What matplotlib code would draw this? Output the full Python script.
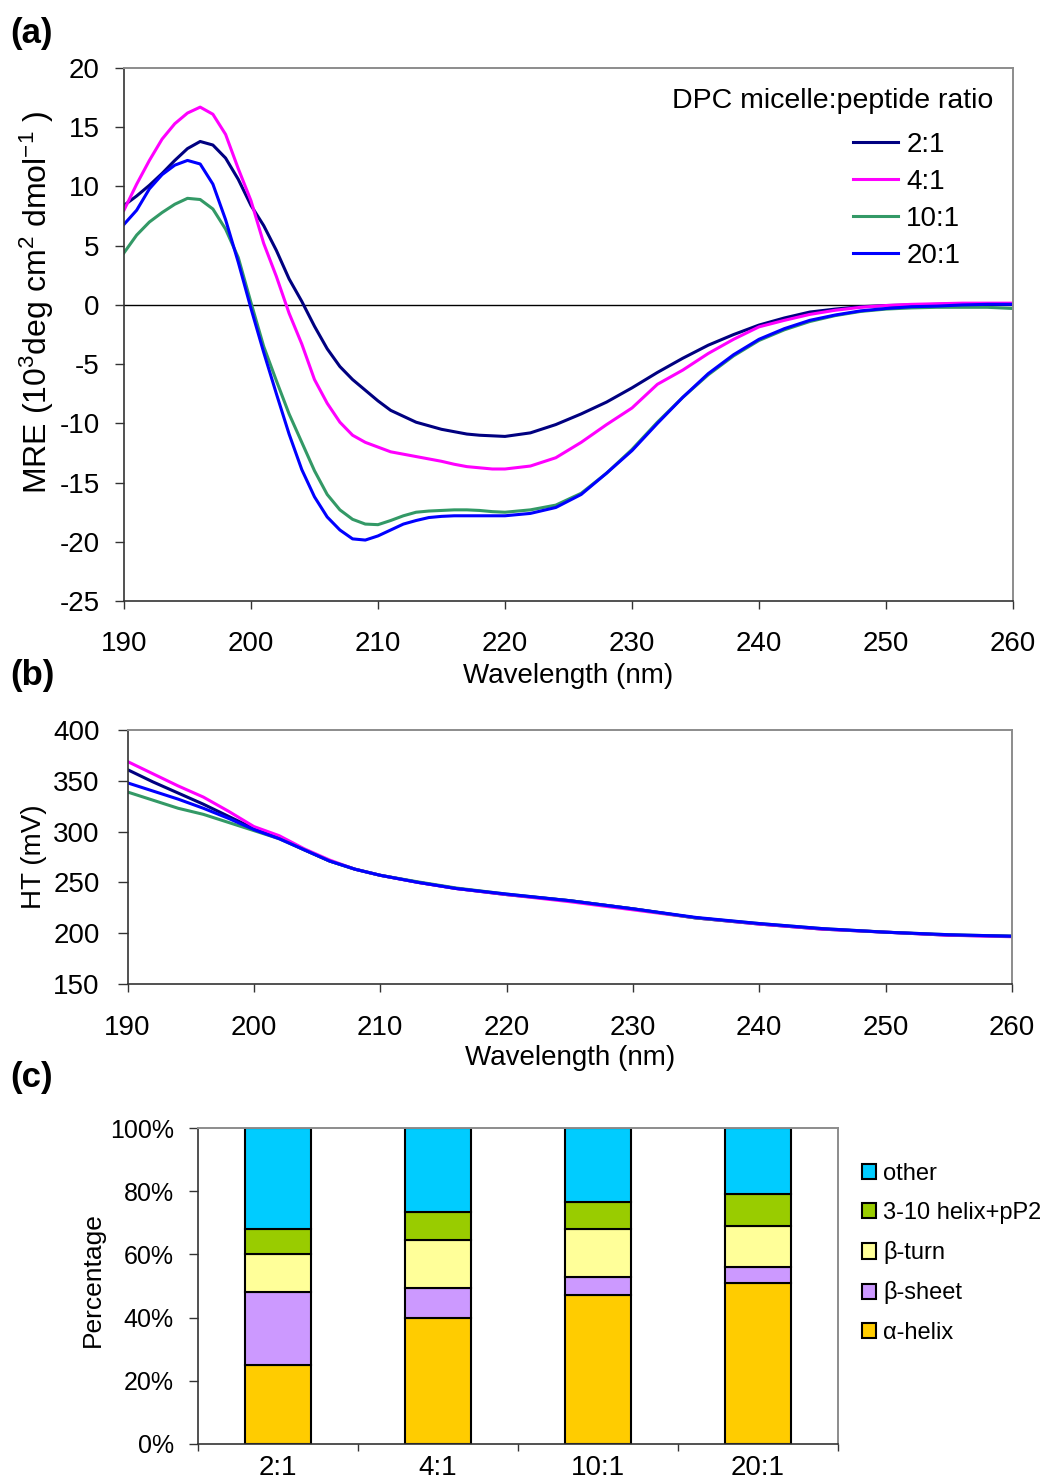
import matplotlib
matplotlib.use('Agg')
import matplotlib.pyplot as plt
from matplotlib.ticker import MultipleLocator, FixedLocator, NullFormatter

plt.rcParams['font.family'] = ['Liberation Sans', 'DejaVu Sans']
plt.rcParams['mathtext.default'] = 'regular'
plt.rcParams['axes.unicode_minus'] = False

# ---- CD spectra (MRE, 10^3 deg cm2 dmol-1) ----
wl = [190, 191, 192, 193, 194, 195, 196, 197, 198, 199, 200, 201, 202, 203, 204, 205,
      206, 207, 208, 209, 210, 211, 212, 213, 214, 215, 216, 217, 218, 219, 220, 222,
      224, 226, 228, 230, 232, 234, 236, 238, 240, 242, 244, 246, 248, 250, 252, 254,
      256, 258, 260]
mre_2 = [8.4, 9.2, 10.1, 11.1, 12.2, 13.2, 13.8, 13.5, 12.4, 10.6, 8.4, 6.7, 4.6, 2.2, 0.3, -1.8,
         -3.7, -5.2, -6.3, -7.2, -8.1, -8.9, -9.4, -9.9, -10.2, -10.5, -10.7, -10.9, -11.0, -11.05, -11.1, -10.8,
         -10.1, -9.2, -8.2, -7.0, -5.7, -4.5, -3.4, -2.5, -1.7, -1.1, -0.6, -0.35, -0.15, -0.05, 0.0, 0.05,
         0.1, 0.1, 0.1]
mre_4 = [8.0, 10.2, 12.2, 14.0, 15.3, 16.2, 16.7, 16.1, 14.4, 11.5, 8.8, 5.2, 2.4, -0.7, -3.3, -6.3,
         -8.3, -9.9, -11.0, -11.6, -12.0, -12.4, -12.6, -12.8, -13.0, -13.2, -13.45, -13.65, -13.75, -13.85, -13.85, -13.6,
         -12.9, -11.6, -10.1, -8.7, -6.7, -5.5, -4.1, -2.9, -1.85, -1.3, -0.8, -0.45, -0.2, -0.05, 0.05, 0.1,
         0.15, 0.15, 0.15]
mre_10 = [4.4, 5.9, 7.0, 7.8, 8.5, 9.0, 8.9, 8.1, 6.4, 4.0, 0.2, -3.5, -6.4, -9.2, -11.6, -14.0,
          -16.0, -17.3, -18.1, -18.5, -18.55, -18.2, -17.8, -17.5, -17.4, -17.35, -17.3, -17.3, -17.35, -17.45, -17.5, -17.3,
          -16.9, -15.9, -14.2, -12.2, -9.9, -7.8, -5.9, -4.3, -3.0, -2.1, -1.4, -0.9, -0.55, -0.35, -0.25, -0.2,
          -0.2, -0.2, -0.3]
mre_20 = [6.8, 8.0, 9.8, 11.0, 11.8, 12.2, 11.9, 10.2, 7.2, 3.6, -0.3, -4.0, -7.5, -10.9, -13.9, -16.2,
          -17.9, -19.0, -19.75, -19.85, -19.5, -19.0, -18.5, -18.2, -17.95, -17.85, -17.8, -17.8, -17.8, -17.8, -17.8, -17.6,
          -17.1, -16.0, -14.2, -12.3, -10.0, -7.8, -5.8, -4.2, -2.9, -2.0, -1.3, -0.85, -0.5, -0.3, -0.15, -0.1,
          0.0, 0.05, 0.05]

# ---- HT voltage (mV) ----
wl_ht = [190, 192, 194, 196, 198, 200, 202, 204, 206, 208, 210, 213, 216, 220, 225, 230, 235, 240, 245, 250, 255, 260]
ht_2 = [361, 349, 338, 327, 315, 303, 294, 282, 271, 263, 257, 250, 244, 238, 232, 224, 215, 209, 204, 201, 198, 197]
ht_4 = [369, 357, 345, 334, 320, 305, 296, 283, 272, 263, 257, 250, 244, 238, 231, 223, 215, 209, 204, 201, 198, 196.5]
ht_10 = [339, 331, 323, 317, 309, 301, 293, 282, 271, 263, 257, 250.5, 244.5, 238.5, 232, 224, 215, 209.5, 204.5, 201, 198.5, 197]
ht_20 = [348, 340, 332, 323, 313, 302, 293, 282, 271, 263, 257, 250, 244, 238.5, 232, 224, 215.5, 209.5, 204.5, 201, 198.5, 197]

ratios = ['2:1', '4:1', '10:1', '20:1']
line_colors = ['#000080', '#FF00FF', '#339966', '#0000FF']

# ---- secondary structure fractions (%) ----
helix = [25, 40, 47, 51]
sheet = [23, 9.5, 6, 5]
turn = [12, 15, 15, 13]
helix310 = [8, 9, 8.5, 10]
other = [32, 26.5, 23.5, 21]
struct_names = ['α-helix', 'β-sheet', 'β-turn', '3-10 helix+pP2', 'other']
struct_colors = ['#FFCC00', '#CC99FF', '#FFFF99', '#99CC00', '#00CCFF']

fig = plt.figure(figsize=(10.41, 14.79), dpi=100)


def frame(ax):
    for s in ('left', 'bottom'):
        ax.spines[s].set_color('#333333')
        ax.spines[s].set_linewidth(1.2)
    for s in ('top', 'right'):
        ax.spines[s].set_color('#8c8c8c')
        ax.spines[s].set_linewidth(1.4)


# (a) CD spectra
ax1 = fig.add_axes([0.1191, 0.5936, 0.8540, 0.3604])
for y, lab, c in zip([mre_2, mre_4, mre_10, mre_20], ratios, line_colors):
    ax1.plot(wl, y, color=c, lw=2.2, label=lab)
ax1.axhline(0, color='black', lw=1.0, zorder=1)
ax1.set_xlim(190, 260)
ax1.set_ylim(-25, 20)
ax1.xaxis.set_major_locator(MultipleLocator(10))
ax1.yaxis.set_major_locator(MultipleLocator(5))
ax1.tick_params(axis='y', direction='out', length=6.5, width=1, pad=11, labelsize=20, color='#333333')
ax1.tick_params(axis='x', direction='out', length=5.5, width=1, pad=16, labelsize=20, color='#333333')
ax1.set_xlabel('Wavelength (nm)', fontsize=20)
ax1.xaxis.set_label_coords(0.5, -0.116)
ax1.set_ylabel('MRE (10$^3$deg cm$^2$ dmol$^{-1}$ )', fontsize=23)
ax1.yaxis.set_label_coords(-0.076, 0.56)
frame(ax1)
ax1.text(0.9775, 0.938, 'DPC micelle:peptide ratio', transform=ax1.transAxes,
         ha='right', va='center', fontsize=20.5)
ax1.legend(loc='upper left', bbox_to_anchor=(0.82, 0.8805), frameon=False, fontsize=20,
           handlelength=1.62, handletextpad=0.3, labelspacing=0.4, borderpad=0, borderaxespad=0)

# (b) HT voltage
ax2 = fig.add_axes([0.1225, 0.3347, 0.8496, 0.1717])
for y, c in zip([ht_2, ht_4, ht_10, ht_20], line_colors):
    ax2.plot(wl_ht, y, color=c, lw=2.2)
ax2.set_xlim(190, 260)
ax2.set_ylim(150, 400)
ax2.xaxis.set_major_locator(MultipleLocator(10))
ax2.yaxis.set_major_locator(MultipleLocator(50))
ax2.tick_params(axis='y', direction='out', length=7, width=1, pad=13, labelsize=20, color='#333333')
ax2.tick_params(axis='x', direction='out', length=5.5, width=1, pad=17, labelsize=20, color='#333333')
ax2.set_xlabel('Wavelength (nm)', fontsize=20)
ax2.xaxis.set_label_coords(0.5, -0.24)
ax2.set_ylabel('HT (mV)', fontsize=20)
ax2.yaxis.set_label_coords(-0.091, 0.5)
frame(ax2)

# (c) secondary structure composition
ax3 = fig.add_axes([0.1902, 0.0237, 0.6148, 0.2136])
x = range(len(ratios))
bottom = [0, 0, 0, 0]
for vals, name, c in zip([helix, sheet, turn, helix310, other], struct_names, struct_colors):
    ax3.bar(x, vals, width=0.41, bottom=bottom, color=c, edgecolor='black', linewidth=1.5, label=name)
    bottom = [b + v for b, v in zip(bottom, vals)]
ax3.set_xlim(-0.5, 3.5)
ax3.set_ylim(0, 100)
ax3.set_xticks(list(x))
ax3.set_xticklabels(ratios)
ax3.xaxis.set_minor_locator(FixedLocator([-0.5, 0.5, 1.5, 2.5, 3.5]))
ax3.xaxis.set_minor_formatter(NullFormatter())
ax3.tick_params(axis='x', which='major', length=0, pad=8, labelsize=20)
ax3.tick_params(axis='x', which='minor', direction='out', length=5, width=1, color='#333333')
ax3.set_yticks([0, 20, 40, 60, 80, 100])
ax3.set_yticklabels(['%d%%' % v for v in [0, 20, 40, 60, 80, 100]])
ax3.tick_params(axis='y', direction='out', length=6.5, width=1, pad=11, labelsize=18, color='#333333')
ax3.set_ylabel('Percentage', fontsize=19)
ax3.yaxis.set_label_coords(-0.145, 0.52)
frame(ax3)
h, l = ax3.get_legend_handles_labels()
ax3.legend(h[::-1], l[::-1], loc='upper left', bbox_to_anchor=(1.037, 0.89), frameon=False,
           fontsize=17, handlelength=0.62, handleheight=0.62, handletextpad=0.3,
           labelspacing=0.73, borderpad=0, borderaxespad=0)

# panel letters
fig.text(0.010, 1 - 33 / 1479, '(a)', fontsize=25, fontweight='bold', va='center')
fig.text(0.010, 1 - 676 / 1479, '(b)', fontsize=25, fontweight='bold', va='center')
fig.text(0.010, 1 - 1078 / 1479, '(c)', fontsize=25, fontweight='bold', va='center')

fig.savefig('out.png', dpi=100)
